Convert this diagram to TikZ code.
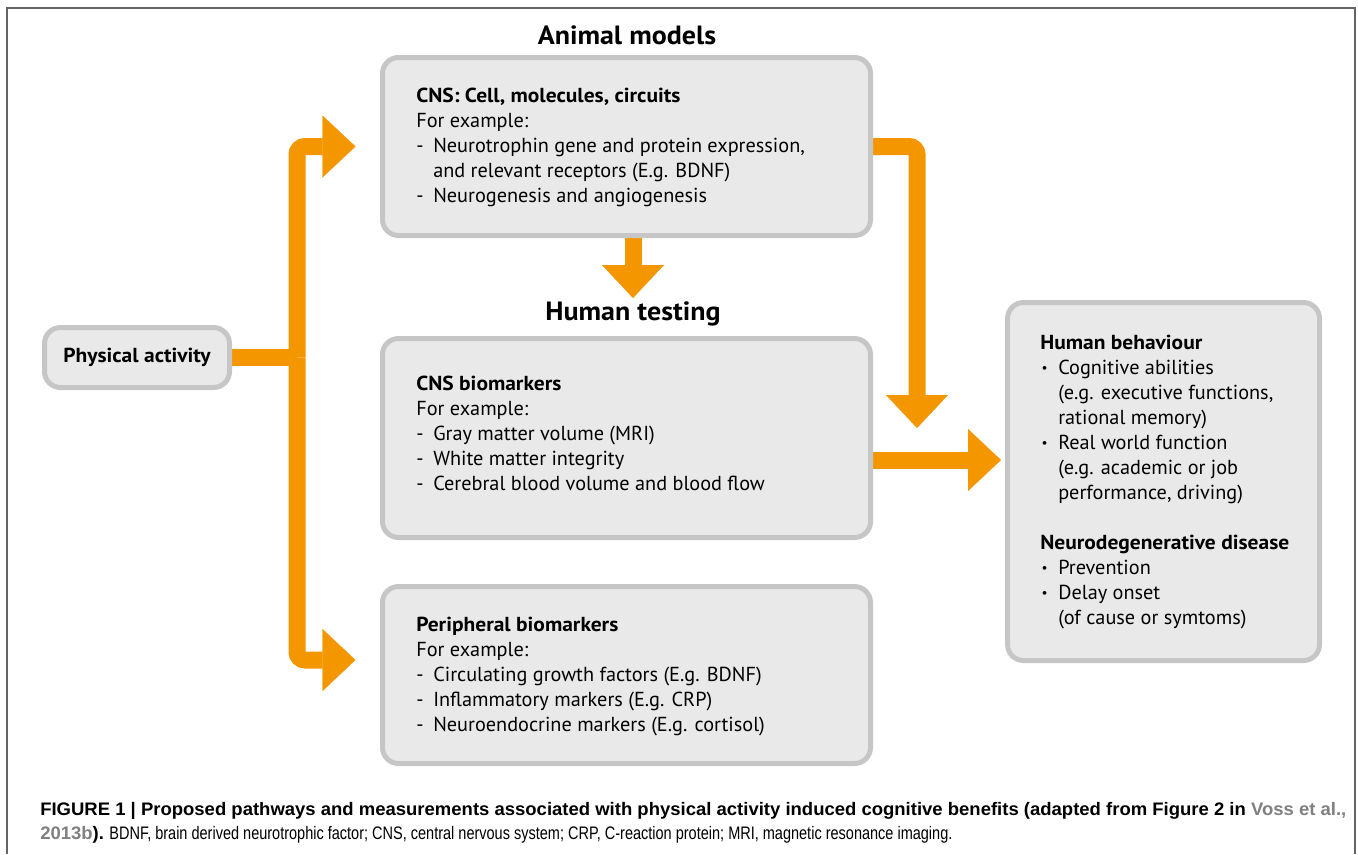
\documentclass[tikz,border=0pt]{standalone}
\usepackage{fontspec}
\setmainfont{PT Sans}[BoldFeatures={FakeStretch=1.06}]
\newfontfamily\capfont{Liberation Sans}[FakeStretch=0.80,BoldFeatures={FakeStretch=1.02}]
\usetikzlibrary{arrows.meta,backgrounds}
\definecolor{flowor}{RGB}{243,150,0}
\definecolor{panelfill}{RGB}{233,233,233}
\definecolor{paneledge}{RGB}{198,198,198}
\definecolor{framegray}{RGB}{100,100,100}
\definecolor{citegray}{RGB}{128,128,128}
\newcommand{\dsh}{\makebox[12.75pt][l]{-}}
\newcommand{\dind}{\hspace*{12.75pt}}
\newcommand{\blt}{\makebox[13.5pt][l]{\hspace*{1pt}\raisebox{1.2pt}{\fontsize{10}{10}\selectfont\textbullet}}}
\newcommand{\bind}{\hspace*{13.5pt}}

\begin{document}
\begin{tikzpicture}[x=0.75pt,y=-0.75pt,
  panel/.style={draw=paneledge,fill=panelfill,line width=3.75pt,rounded corners=12pt,inner sep=0pt},
  paneltext/.style={align=left,inner sep=0pt,anchor=west,font=\fontsize{15.2}{18.75}\selectfont},
  heading/.style={inner sep=0pt,font=\fontsize{19.8}{22}\selectfont\bfseries},
  capt/.style={align=left,inner sep=0pt,anchor=west,font=\capfont\fontsize{13.6}{18}\selectfont},
  flow/.style={draw=flowor,line width=12.75pt,rounded corners=6pt},
  flowarrow/.style={flow,-{Triangle[width=46.5pt,length=24.75pt,line width=0.1pt]}}]
\useasboundingbox (0,0) rectangle (1358,854);
\draw[framegray,line width=1.1pt] (7,854) -- (7,8) -- (1355,8) -- (1355,854);

\node[heading]   (animaltitle) at (627,35)    {Animal models};
\node[heading]   (humantitle)  at (633,314)   {Human testing};

\node[panel,minimum width=138.75pt,minimum height=45pt] (pa) at (137,357.5)
  {\fontsize{15.2}{18.75}\selectfont\bfseries Physical activity};
\node[panel,minimum width=366pt,minimum height=133.5pt]  (animal) at (626.5,146.5) {};
\node[panel,minimum width=366pt,minimum height=149.25pt] (cnsbio) at (626.5,438)   {};
\node[panel,minimum width=366pt,minimum height=132.75pt] (peri)   at (626.5,675)   {};
\node[panel,minimum width=234pt,minimum height=268.5pt]  (behav)  at (1163.5,481.5) {};

\node[paneltext] (animaltxt) at (416,147) {\textbf{CNS: Cell, molecules, circuits}\\
  For example:\\
  \dsh Neurotrophin gene and protein expression,\\
  \dind and relevant receptors (E.g. BDNF)\\
  \dsh Neurogenesis and angiogenesis};
\node[paneltext] (cnsbiotxt) at (416,433) {\textbf{CNS biomarkers}\\
  For example:\\
  \dsh Gray matter volume (MRI)\\
  \dsh White matter integrity\\
  \dsh Cerebral blood volume and blood flow};
\node[paneltext] (peritxt) at (416,677) {\textbf{Peripheral biomarkers}\\
  For example:\\
  \dsh Circulating growth factors (E.g. BDNF)\\
  \dsh Inflammatory markers (E.g. CRP)\\
  \dsh Neuroendocrine markers (E.g. cortisol)};
\node[paneltext] (behavtxt) at (1040,482) {\textbf{Human behaviour}\\
  \blt Cognitive abilities\\
  \bind (e.g. executive functions,\\
  \bind rational memory)\\
  \blt Real world function\\
  \bind (e.g. academic or job\\
  \bind performance, driving)\\[18.75pt]
  \textbf{Neurodegenerative disease}\\
  \blt Prevention\\
  \blt Delay onset\\
  \bind (of cause or symtoms)};

\node[capt] (caption) at (40,823) {\textbf{FIGURE 1 | Proposed pathways and measurements associated with physical activity induced cognitive benefits (adapted from Figure 2 in \textcolor{citegray}{Voss et al.,}}\\
  \textbf{\textcolor{citegray}{2013b}).} BDNF, brain derived neurotrophic factor; CNS, central nervous system; CRP, C-reaction protein; MRI, magnetic resonance imaging.};

\coordinate (split)   at (297,357.5);
\coordinate (join)    at (917,428);
\coordinate (downtip) at (633,298);
\coordinate (bioout)  at ([yshift=-16.5pt]cnsbio.east);

\begin{scope}[on background layer]
\draw[flow]                        (pa.east) -- (split);
\draw[flowarrow,shorten >=18.4pt]  (split) |- (animal.west);
\draw[flowarrow,shorten >=18.4pt]  (split) |- ([yshift=11.25pt]peri.west);
\draw[flowarrow]                   (animal.east) -| (join);
\draw[flowarrow]                   (animal.south -| downtip) -- (downtip);
\draw[flowarrow,shorten >=3pt]     (bioout) -- (bioout -| behav.west);
\end{scope}
\end{tikzpicture}
\end{document}
